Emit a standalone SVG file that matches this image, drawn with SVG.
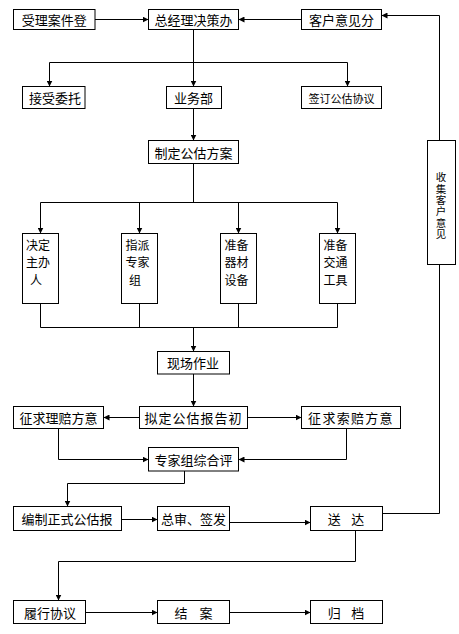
<svg xmlns="http://www.w3.org/2000/svg" width="459" height="634" viewBox="0 0 459 634">
<style>
.box{fill:#fff;stroke:#000;stroke-width:1}
.t{font-family:"Noto Sans CJK SC","Noto Sans",sans-serif;font-size:13px;fill:#000;text-anchor:middle;dominant-baseline:central}
.ts{font-family:"Noto Sans CJK SC","Noto Sans",sans-serif;font-size:12px;fill:#000;text-anchor:start;dominant-baseline:central}
.tv{font-family:"Noto Sans CJK SC","Noto Sans",sans-serif;font-size:10.5px;fill:#000;text-anchor:middle;writing-mode:vertical-rl;letter-spacing:0.8px}
.c{fill:none;stroke:#000;stroke-width:1}
.a{marker-end:url(#ah)}
</style>
<defs>
<marker id="ah" viewBox="0 0 6 6" refX="6" refY="3" markerWidth="6" markerHeight="6" markerUnits="userSpaceOnUse" orient="auto">
<path d="M0,0 L6,3 L0,6 z" fill="#000"/>
</marker>
</defs>
<rect width="459" height="634" fill="#fff"/>
<g id="connectors">
<path class="c a" d="M95,19.5 H148.5"/>
<path class="c a" d="M301.5,19.5 H238.5"/>
<path class="c" d="M382.5,513.5 H439.5 V264.5"/>
<path class="c a" d="M439.5,140.5 V15.5 H381.5"/>
<path class="c a" d="M193.5,29.5 V86.5"/>
<path class="c" d="M49.5,62.5 H347.5"/>
<path class="c a" d="M49.5,62.5 V86.5"/>
<path class="c a" d="M347.5,62.5 V86.5"/>
<path class="c a" d="M193.5,108.5 V140.5"/>
<path class="c" d="M193.5,163.5 V202.5 M40.5,202.5 H337.5"/>
<path class="c a" d="M40.5,202.5 V233.5"/>
<path class="c a" d="M139.5,202.5 V233.5"/>
<path class="c a" d="M238.5,202.5 V233.5"/>
<path class="c a" d="M337.5,202.5 V233.5"/>
<path class="c" d="M40.5,303.5 V327.5 M139.5,303.5 V327.5 M238.5,303.5 V327.5 M337.5,303.5 V327.5 M40.5,327.5 H337.5"/>
<path class="c a" d="M193.5,327.5 V351.5"/>
<path class="c a" d="M193.5,374 V406.5"/>
<path class="c a" d="M139.5,417.5 H103.5"/>
<path class="c a" d="M247.5,417.5 H301.5"/>
<path class="c a" d="M58.5,428.5 V459.5 H148.5"/>
<path class="c a" d="M346.5,428.5 V459.5 H238.5"/>
<path class="c a" d="M184.5,471 V483.5 H67.5 V506.5"/>
<path class="c a" d="M121.5,519.5 H157.5"/>
<path class="c a" d="M229.5,522.5 H310.5"/>
<path class="c a" d="M355.5,530.5 V561.5 H58.5 V600.5"/>
<path class="c a" d="M85.5,612.5 H157.5"/>
<path class="c a" d="M229.5,612.5 H310.5"/>
</g>
<g id="n1"><rect class="box" x="13.5" y="9.5" width="81.5" height="20"/><text class="t" x="54.3" y="19.5">受理案件登</text></g>
<g id="n2"><rect class="box" x="148.5" y="9.5" width="90" height="20"/><text class="t" x="193.5" y="19.5">总经理决策办</text></g>
<g id="n3"><rect class="box" x="301.5" y="9.5" width="80" height="20"/><text class="t" x="341.5" y="19.5">客户意见分</text></g>
<g id="n4"><rect class="box" x="22.5" y="86.5" width="62.5" height="22"/><text class="t" x="55" y="97.5">接受委托</text></g>
<g id="n5"><rect class="box" x="166.5" y="86.5" width="55" height="22"/><text class="t" x="193.5" y="97.5">业务部</text></g>
<g id="n6"><rect class="box" x="301.5" y="86.5" width="80" height="22"/><text class="t" x="341.5" y="97.5" style="font-size:11px">签订公估协议</text></g>
<g id="n7"><rect class="box" x="148.5" y="140.5" width="90" height="23"/><text class="t" x="193.5" y="152">制定公估方案</text></g>
<g id="n8"><rect class="box" x="22.5" y="233.5" width="36" height="70"/><text class="ts"><tspan x="26" y="243.5">决定</tspan><tspan x="26" y="261">主办</tspan><tspan x="30" y="278.5">人</tspan></text></g>
<g id="n9"><rect class="box" x="121.5" y="233.5" width="36" height="70"/><text class="ts"><tspan x="125.5" y="243.5">指派</tspan><tspan x="125.5" y="261">专家</tspan><tspan x="129" y="278.5">组</tspan></text></g>
<g id="n10"><rect class="box" x="220.5" y="233.5" width="36" height="70"/><text class="ts"><tspan x="224.5" y="243.5">准备</tspan><tspan x="224.5" y="261">器材</tspan><tspan x="224.5" y="278.5">设备</tspan></text></g>
<g id="n11"><rect class="box" x="319.5" y="233.5" width="36" height="70"/><text class="ts"><tspan x="323.5" y="243.5">准备</tspan><tspan x="323.5" y="261">交通</tspan><tspan x="323.5" y="278.5">工具</tspan></text></g>
<g id="n12"><rect class="box" x="427.5" y="140.5" width="28" height="124"/><text class="tv" x="441" y="206">收集客户意见</text></g>
<g id="n13"><rect class="box" x="157.5" y="351.5" width="72" height="22.5"/><text class="t" x="193" y="362.7">现场作业</text></g>
<g id="n14"><rect class="box" x="139.5" y="406.5" width="108" height="22"/><text class="t" x="193.5" y="417.5" style="letter-spacing:1px">拟定公估报告初</text></g>
<g id="n15"><rect class="box" x="13.5" y="406.5" width="90" height="22"/><text class="t" x="58.5" y="417.5">征求理赔方意</text></g>
<g id="n16"><rect class="box" x="301.5" y="406.5" width="99" height="22"/><text class="t" x="351" y="417.5" style="letter-spacing:1.3px">征求索赔方意</text></g>
<g id="n17"><rect class="box" x="148.5" y="447.5" width="90" height="23.5"/><text class="t" x="193.5" y="459.2">专家组综合评</text></g>
<g id="n18"><rect class="box" x="13.5" y="506.5" width="108" height="24"/><text class="t" x="67" y="518.5">编制正式公估报</text></g>
<g id="n19"><rect class="box" x="157.5" y="506.5" width="72" height="24"/><text class="t" x="193.5" y="518.5">总审、签发</text></g>
<g id="n20"><rect class="box" x="310.5" y="506.5" width="72" height="24"/><text class="t" x="346" y="518.5" style="word-spacing:7.5px" xml:space="preserve">送 达</text></g>
<g id="n21"><rect class="box" x="13.5" y="600.5" width="72" height="23"/><text class="t" x="50" y="612">履行协议</text></g>
<g id="n22"><rect class="box" x="157.5" y="600.5" width="72" height="23"/><text class="t" x="193.5" y="612" style="word-spacing:9px" xml:space="preserve">结 案</text></g>
<g id="n23"><rect class="box" x="310.5" y="600.5" width="72" height="23"/><text class="t" x="346" y="612" style="word-spacing:7.5px" xml:space="preserve">归 档</text></g>
</svg>
